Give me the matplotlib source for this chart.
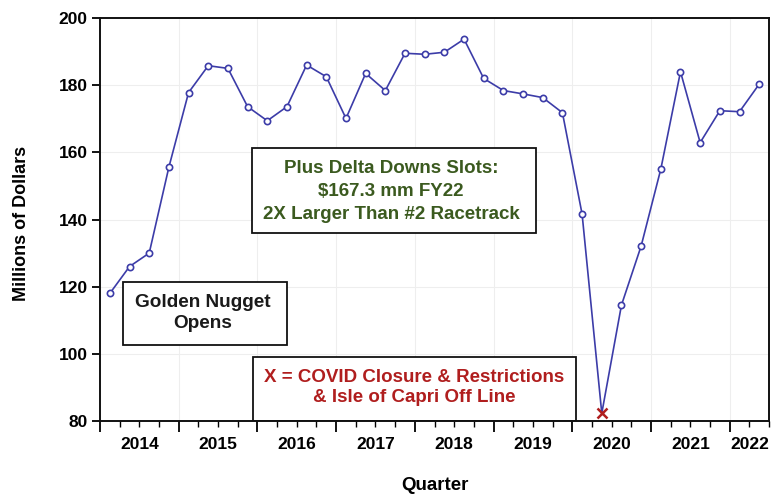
import numpy as np
import matplotlib.pyplot as plt
from matplotlib.patches import Rectangle

plt.rcParams['font.family'] = ['Liberation Sans', 'DejaVu Sans']
plt.rcParams['font.weight'] = 'bold'

# quarterly revenue, 2014Q1 .. 2022Q2 (millions of dollars)
quarters = [f"{y}Q{q}" for y in range(2014, 2023) for q in range(1, 5)][:34]
revenue = [118, 126, 130, 155.6, 177.8, 185.8, 185.0, 173.6,
           169.4, 173.6, 186.0, 182.5, 170.1, 183.5, 178.4, 189.5,
           189.2, 189.8, 193.7, 182.0, 178.4, 177.4, 176.3, 171.8,
           141.6, 82.3, 114.5, 132.1, 155.0, 184.0, 162.9, 172.4,
           172.1, 180.3]
years = [2014, 2015, 2016, 2017, 2018, 2019, 2020, 2021, 2022]
covid_quarter = "2020Q2"

line_col = '#3c3ca8'
green = '#3b5a1f'
red = '#b01e1e'

x = np.arange(len(revenue)) + 0.5
ci = quarters.index(covid_quarter)
normal = [i for i in range(len(revenue)) if i != ci]

fig = plt.figure(figsize=(7.79, 4.96), dpi=100)
ax = fig.add_axes([0.1284, 0.1512, 0.8588, 0.8125])

ax.plot(x, revenue, color=line_col, lw=1.2, zorder=3)
ax.plot(x[normal], np.array(revenue)[normal], 'o', ms=4.5, mfc='white',
        mec=line_col, mew=1.2, zorder=4)
ax.plot(x[ci], revenue[ci], 'x', ms=7, mec=red, mew=1.8, zorder=5)

ax.set_xlim(0, 34)
ax.set_ylim(80, 200)
ax.set_yticks(range(80, 201, 20))
ax.set_xticks(np.arange(0, 35, 4))
ax.set_xticks(np.arange(0, 35, 1), minor=True)
ax.set_xticklabels([])
ax.tick_params(axis='x', which='major', length=8, width=1.3, direction='out')
ax.tick_params(axis='x', which='minor', length=4, width=1.0, direction='out')
ax.tick_params(axis='y', length=6, width=1.3, labelsize=12.5, pad=3)
for lab in ax.get_yticklabels():
    lab.set_fontweight('bold')

# year labels centred in each year span (2022 only has two quarters)
year_pos = [i * 4 + 2 for i in range(len(years) - 1)] + [33]
for yr, xp in zip(years, year_pos):
    ax.text(xp, -0.04, str(yr), transform=ax.get_xaxis_transform(),
            ha='center', va='top', fontsize=12.5, fontweight='bold')

ax.grid(True, color='#eeeeee', lw=0.8, zorder=0)
ax.set_axisbelow(True)
for s in ax.spines.values():
    s.set_linewidth(1.4)
    s.set_color('#111111')

ax.set_ylabel('Millions of Dollars', fontsize=13, fontweight='bold')
ax.yaxis.set_label_coords(-0.105, 0.49)
ax.set_xlabel('Quarter', fontsize=13.5, fontweight='bold')
ax.xaxis.set_label_coords(0.5, -0.14)

# annotation boxes
ax.add_patch(Rectangle((1.17, 102.6), 8.33, 18.8, fc='white', ec='#111111',
                       lw=1.3, zorder=2))
ax.text(5.2, 112.1, 'Golden Nugget\nOpens', ha='center', va='center',
        fontsize=13.7, fontweight='bold', color='#1a1a1a', linespacing=1.35, zorder=6)

ax.add_patch(Rectangle((7.73, 136.0), 14.43, 25.3, fc='white', ec='#111111',
                       lw=1.3, zorder=2))
ax.text(14.8, 148.3, 'Plus Delta Downs Slots:\n$167.3 mm FY22\n2X Larger Than #2 Racetrack',
        ha='center', va='center', fontsize=13.5, fontweight='bold', color=green,
        linespacing=1.45, zorder=6)

ax.add_patch(Rectangle((7.78, 80.0), 16.41, 19.0, fc='white', ec='#111111',
                       lw=1.3, zorder=2))
ax.text(15.95, 90.0, 'X = COVID Closure & Restrictions\n& Isle of Capri Off Line',
        ha='center', va='center', fontsize=13.5, fontweight='bold', color=red,
        linespacing=1.28, zorder=6)

fig.savefig('out.png', dpi=100)
